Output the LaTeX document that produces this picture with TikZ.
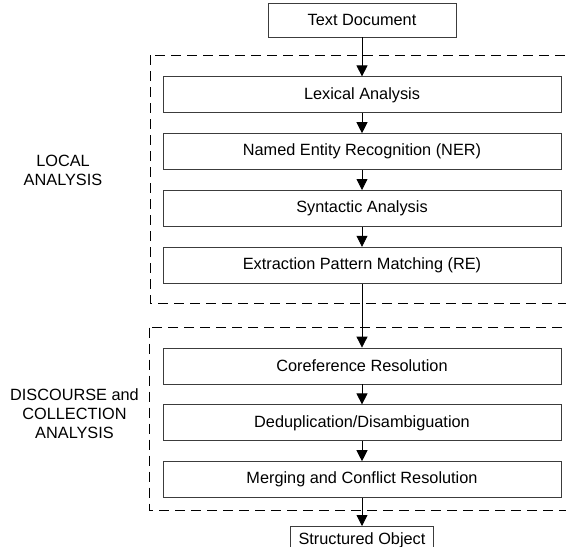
\documentclass[tikz,border=0pt]{standalone}
\usepackage{fontspec}
\setmainfont{Liberation Sans}
\usetikzlibrary{arrows.meta,positioning,calc}
\definecolor{edgegray}{RGB}{60,60,60}

\begin{document}
\begin{tikzpicture}[
 node distance=20pt,
 every node/.style={font=\fontsize{16.3}{19}\selectfont},
 stage/.style={draw=edgegray,line width=0.8pt,minimum width=398pt,
               minimum height=36pt,inner sep=0pt},
 endbox/.style={draw=edgegray,line width=0.8pt,minimum height=34pt,inner sep=0pt},
 frame/.style={draw,line width=1pt,dash pattern=on 10pt off 6pt},
 tag/.style={align=center},
 arrow/.style={-{Triangle[length=11pt,width=11pt]},line width=0.8pt}]
 \path[use as bounding box,clip] (0,0) rectangle (566pt,-547pt);
 \node[endbox,minimum width=188pt] (doc) at (362pt,-20pt) {Text Document};
 \node[stage] (lex) [below=39pt of doc] {Lexical Analysis};
 \node[stage] (ner) [below=of lex] {Named Entity Recognition (NER)};
 \node[stage] (syn) [below=of ner] {Syntactic Analysis};
 \node[stage] (ext) [below=of syn] {Extraction Pattern Matching (RE)};
 \node[stage] (coref) [below=64pt of ext] {Coreference Resolution};
 \node[stage] (dedup) [below=of coref] {Deduplication/Disambiguation};
 \node[stage] (merge) [below=of dedup] {Merging and Conflict Resolution};
 \node[endbox,minimum width=143pt,text height=12pt,text depth=10pt] (obj) [below=28pt of merge] {Structured Object};
 % dashed groups
 \draw[frame] ($(lex.north west)+(-12pt,21pt)$) rectangle ($(ext.south east)+(12pt,-20pt)$);
 \draw[frame] ($(coref.north west)+(-13pt,20pt)$) rectangle ($(merge.south east)+(12pt,-12pt)$);
 \node[tag] (local) at (63pt,-170pt) {LOCAL\\ANALYSIS};
 \node[tag] (disc) at (74.5pt,-414pt) {DISCOURSE and\\COLLECTION\\ANALYSIS};
 \draw[arrow] (doc)--(lex);
 \draw[arrow] (lex)--(ner);
 \draw[arrow] (ner)--(syn);
 \draw[arrow] (syn)--(ext);
 \draw[arrow] (ext)--(coref);
 \draw[arrow] (coref)--(dedup);
 \draw[arrow] (dedup)--(merge);
 \draw[arrow] (merge)--(obj);
\end{tikzpicture}
\end{document}
